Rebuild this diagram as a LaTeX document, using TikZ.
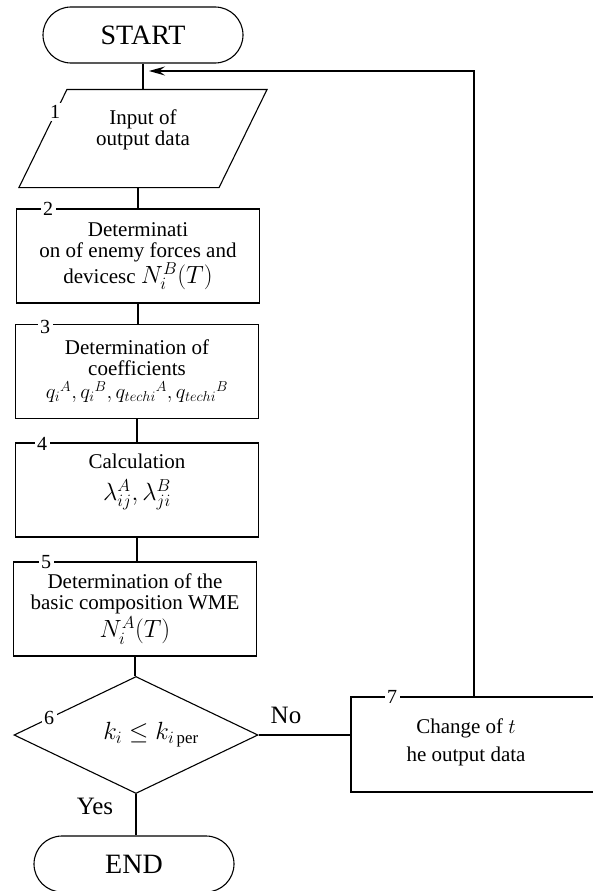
\documentclass[tikz,border=0pt]{standalone}
\usepackage{fontspec}
\setmainfont{Liberation Serif}
\usetikzlibrary{shapes.misc,shapes.geometric,arrows.meta}
\begin{document}
\begin{tikzpicture}[x=1pt,y=-1pt,line width=1.1pt,
    term/.style={draw,rounded rectangle,minimum width=200pt,minimum height=56pt,inner sep=0pt,font=\fontsize{28}{28}\selectfont},
    block/.style={draw,rectangle,minimum width=243pt,minimum height=94pt,align=center,inner sep=2pt,font=\fontsize{21}{21}\selectfont},
    num/.style={fill=white,inner sep=2.5pt,font=\fontsize{20}{20}\selectfont},
    lbl/.style={font=\fontsize{25}{25}\selectfont}]
    \clip (0,0) rectangle (593,891);
    % terminals
    \node[term] (start) at (143,35) {START};
    \node[term] (end) at (134,864) {END};
    % input
    \node[align=center,minimum width=199pt,minimum height=97pt,inner sep=0pt,font=\fontsize{21}{21}\selectfont] (in1) at (143,138.5) {Input of\\output data\\~};
    \draw ([xshift=24pt]in1.north west) -- ([xshift=24pt]in1.north east) -- ([xshift=-24pt]in1.south east) -- ([xshift=-24pt]in1.south west) -- cycle;
    % process blocks
    \node[block] (b2) at (138,256) {Determinati\\on of enemy forces and\\devicesc {\fontsize{23}{23}\selectfont$N_i^B(T)$}};
    \node[block] (b3) at (137,371.5) {Determination of\\coefficients\\[2pt]${q_i}^A,{q_i}^B,{q_{techi}}^A,{q_{techi}}^B$};
    \node[block] (b4) at (137,490) {Calculation\\[10pt]{\fontsize{23}{23}\selectfont$\lambda_{ij}^A,\lambda_{ji}^B$}\\[4pt]~};
    \node[block] (b5) at (135,609) {Determination of the\\basic composition WME\\[2pt]{\fontsize{23}{23}\selectfont$N_i^A(T)$}};
    \node[draw,diamond,aspect=2.08,minimum width=244pt,minimum height=117pt,inner sep=0pt,font=\fontsize{24}{24}\selectfont] (dia) at (136,735) {\hspace*{30pt}$k_i \le k_{i\,\mathrm{per}}$};
    \node[draw,minimum width=260pt,minimum height=95pt] (b7) at (481,744.5) {};
    \node[align=center,font=\fontsize{21}{21}\selectfont] (t7) at (466,742) {Change of $t$\\[7pt]he output data};
    % numbers
    \node[num] (n1) at (55,112) {1};
    \node[num] (n2) at (48,209) {2};
    \node[num] (n3) at (45,327) {3};
    \node[num] (n4) at (42,444) {4};
    \node[num] (n5) at (46,562) {5};
    \node[num] (n6) at (49,718) {6};
    \node[num] (n7) at (392,697) {7};
    \node[lbl] (no) at (286,715) {No};
    \node[lbl] (yes) at (95,806) {Yes};
    % connectors
    \coordinate (join) at (149,71);
    \draw (start.south) -- (start.south |- in1.north);
    \draw (in1.south -| b2.north) -- (b2.north);
    \draw (b2.south) -- (b2.south |- b3.north);
    \draw (b3.south) -- (b3.south |- b4.north);
    \draw (b4.south) -- (b4.south |- b5.north);
    \draw (b5.south) -- (b5.south |- dia.north);
    \draw (dia.south) -- (dia.south |- end.north);
    \draw (dia.east) -- (dia.east -| b7.west);
    \draw[-{Stealth[length=16pt,width=9pt,inset=6pt]}] ([xshift=-7pt]b7.north) |- (join);
\end{tikzpicture}
\end{document}
